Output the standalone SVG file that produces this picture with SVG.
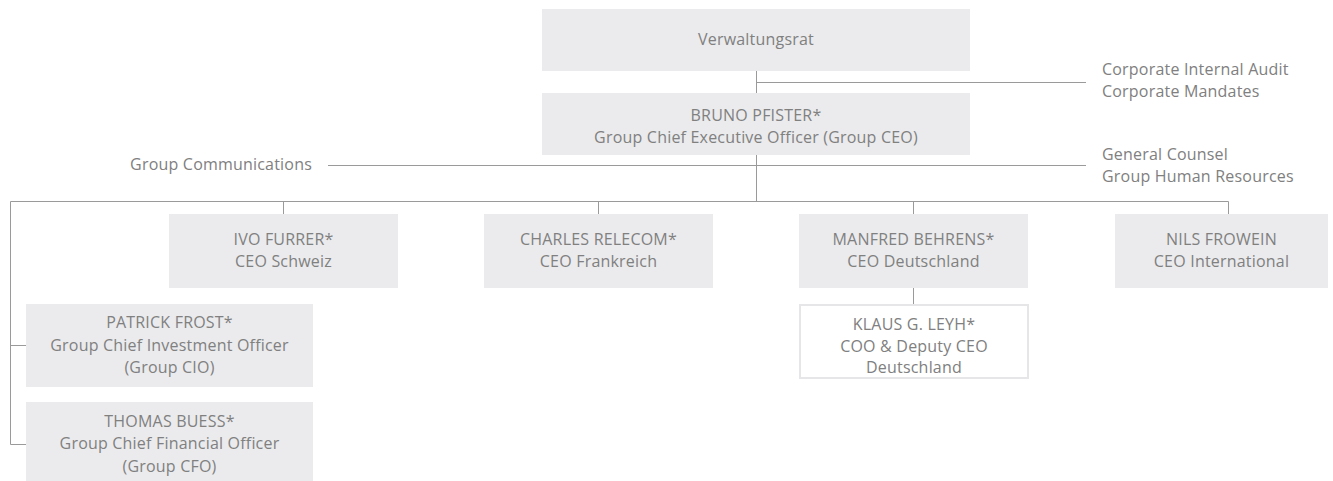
<svg xmlns="http://www.w3.org/2000/svg" width="1333" height="481" viewBox="0 0 1333 481">
  <style>
    .box { fill: #ebebed; }
    .box-outline { fill: #ffffff; stroke: #e6e6e8; stroke-width: 2; }
    .t { font-family: "Open Sans", "Noto Sans", sans-serif; font-size: 16px; letter-spacing: 0.2px; fill: #808080; }
    .c { text-anchor: middle; }
    .line { stroke: #9a9a9a; stroke-width: 1; fill: none; }
  </style>

  <!-- connectors -->
  <g id="connectors">
    <path class="line" d="M756.5 71 V93 M756.5 82.5 H1086"/>
    <path class="line" d="M756.5 155 V201"/>
    <path class="line" d="M328 165.5 H1086"/>
    <path class="line" d="M10.5 201.5 H1228.5 V214"/>
    <path class="line" d="M283.5 201.5 V214 M598.5 201.5 V214 M913.5 201.5 V214"/>
    <path class="line" d="M913.5 288 V305"/>
    <path class="line" d="M10.5 201.5 V444.5 H26 M10.5 345.5 H26"/>
  </g>

  <g id="verwaltungsrat">
    <rect class="box" x="542" y="9" width="428" height="62"/>
    <text class="t c" x="756" y="45">Verwaltungsrat</text>
  </g>

  <g id="bruno-pfister">
    <rect class="box" x="542" y="93" width="428" height="62"/>
    <text class="t c" x="756" y="121">BRUNO PFISTER*</text>
    <text class="t c" x="756" y="143">Group Chief Executive Officer (Group CEO)</text>
  </g>

  <g id="audit-mandates">
    <text class="t" x="1102" y="75">Corporate Internal Audit</text>
    <text class="t" x="1102" y="97">Corporate Mandates</text>
  </g>

  <g id="counsel-hr">
    <text class="t" x="1102" y="160">General Counsel</text>
    <text class="t" x="1102" y="182">Group Human Resources</text>
  </g>

  <g id="group-communications">
    <text class="t" x="312" y="170" text-anchor="end">Group Communications</text>
  </g>

  <g id="ivo-furrer">
    <rect class="box" x="169" y="214" width="229" height="74"/>
    <text class="t c" x="283.5" y="245">IVO FURRER*</text>
    <text class="t c" x="283.5" y="267">CEO Schweiz</text>
  </g>

  <g id="charles-relecom">
    <rect class="box" x="484" y="214" width="229" height="74"/>
    <text class="t c" x="598.5" y="245">CHARLES RELECOM*</text>
    <text class="t c" x="598.5" y="267">CEO Frankreich</text>
  </g>

  <g id="manfred-behrens">
    <rect class="box" x="799" y="214" width="229" height="74"/>
    <text class="t c" x="913.5" y="245">MANFRED BEHRENS*</text>
    <text class="t c" x="913.5" y="267">CEO Deutschland</text>
  </g>

  <g id="nils-frowein">
    <rect class="box" x="1115" y="214" width="213" height="74"/>
    <text class="t c" x="1221.5" y="245">NILS FROWEIN</text>
    <text class="t c" x="1221.5" y="267">CEO International</text>
  </g>

  <g id="klaus-leyh">
    <rect class="box-outline" x="800" y="305" width="228" height="73"/>
    <text class="t c" x="914" y="330">KLAUS G. LEYH*</text>
    <text class="t c" x="914" y="352">COO &amp; Deputy CEO</text>
    <text class="t c" x="914" y="373">Deutschland</text>
  </g>

  <g id="patrick-frost">
    <rect class="box" x="26" y="304" width="287" height="83"/>
    <text class="t c" x="169.5" y="328">PATRICK FROST*</text>
    <text class="t c" x="169.5" y="351">Group Chief Investment Officer</text>
    <text class="t c" x="169.5" y="373">(Group CIO)</text>
  </g>

  <g id="thomas-buess">
    <rect class="box" x="26" y="402" width="287" height="79"/>
    <text class="t c" x="169.5" y="427">THOMAS BUESS*</text>
    <text class="t c" x="169.5" y="449">Group Chief Financial Officer</text>
    <text class="t c" x="169.5" y="472">(Group CFO)</text>
  </g>
</svg>
